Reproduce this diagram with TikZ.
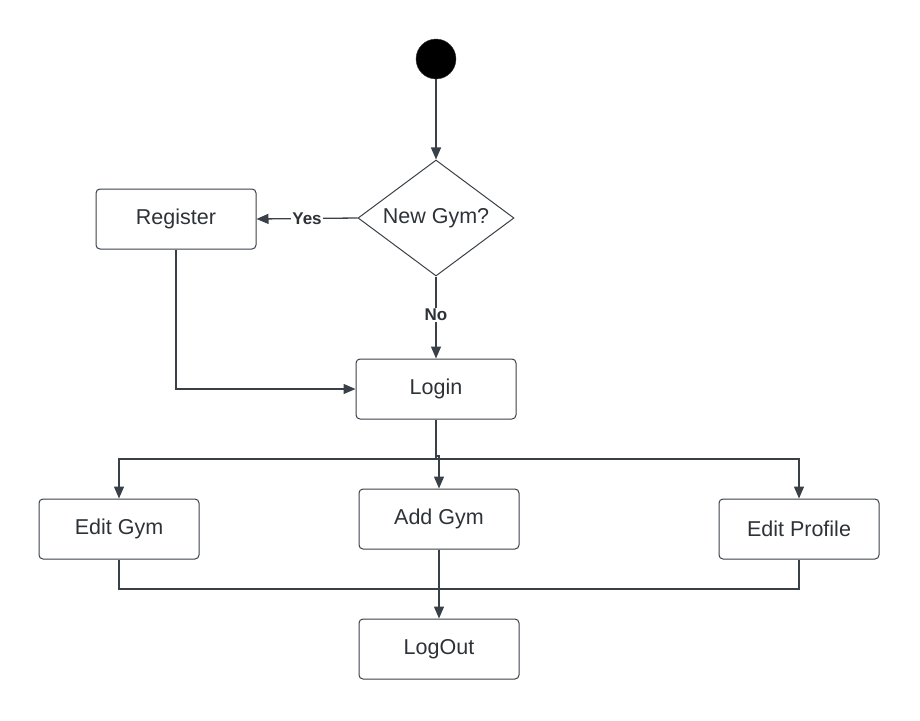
\documentclass[tikz,border=0pt]{standalone}
\usepackage{fontspec}
\setmainfont{Liberation Sans}
\usetikzlibrary{arrows.meta,shapes.geometric}
\definecolor{linegray}{RGB}{58,64,72}
\definecolor{textgray}{RGB}{45,50,56}

\begin{document}
\begin{tikzpicture}[x=1pt,y=-1pt,
    box/.style={draw=linegray, line width=1pt, rounded corners=4pt, minimum width=160pt, minimum height=60pt,
      text=textgray, font=\fontsize{21.5}{24}\selectfont},
    decision/.style={draw=linegray, line width=1pt, diamond, aspect=1.35, minimum width=156pt, minimum height=116pt,
      inner sep=0pt, text=textgray, font=\fontsize{21.5}{24}\selectfont},
    arr/.style={draw=linegray, line width=1.3pt, -{Triangle[length=12pt,width=10pt]}},
    line/.style={draw=linegray, line width=1.3pt},
    lbl/.style={fill=white, inner sep=1pt, text=textgray, font=\fontsize{17}{19}\selectfont\bfseries}]
  \useasboundingbox (0,0) rectangle (920,720);
  % nodes
  \node[circle, fill=black, draw=linegray, minimum size=40pt, inner sep=0pt] (start) at (436,59) {};
  \node[decision] (newgym) at (436,218) {New Gym?};
  \node[box] (register) at (176,219) {Register};
  \node[box] (login) at (436,389) {Login};
  \node[box] (editgym) at (119,529) {Edit Gym};
  \node[box] (addgym) at (439,519) {Add Gym};
  \node[box] (editprofile) at (799,529) {Edit Profile};
  \node[box] (logout) at (439,649) {LogOut};
  \coordinate (split) at (436,459);
  \coordinate (merge) at (439,589);
  % connectors
  \draw[arr] (start) -- (newgym);
  \draw[arr] (newgym.west) -- node[lbl, pos=0.5] {Yes} (register.east);
  \draw[arr] (newgym.south) -- node[lbl, pos=0.47] {No} (login.north);
  \draw[arr] (register.south) |- (login.west);
  \draw[line] (login.south) -- (split);
  \draw[arr] (split) -| (editgym.north);
  \draw[arr] (split) -| (editprofile.north);
  \draw[arr] (split) -- ++(0,-3) -| (addgym.north);
  \draw[line] (editgym.south) |- (merge);
  \draw[line] (editprofile.south) |- (merge);
  \draw[arr] (addgym.south) -- (logout.north);
\end{tikzpicture}
\end{document}
